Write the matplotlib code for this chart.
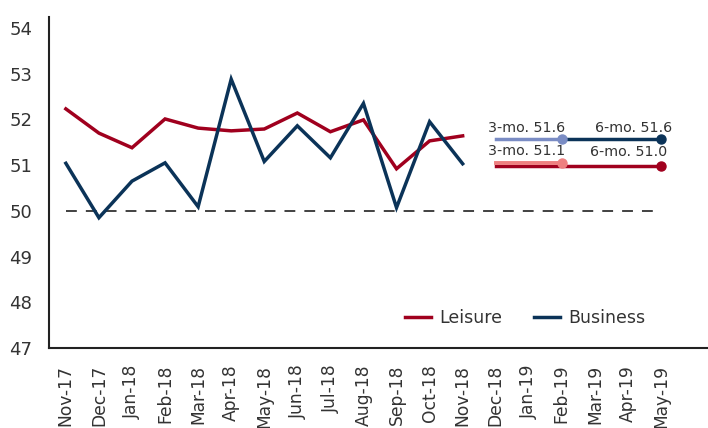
import matplotlib
matplotlib.use("Agg")
import matplotlib.pyplot as plt

months = ["Nov-17", "Dec-17", "Jan-18", "Feb-18", "Mar-18", "Apr-18", "May-18",
          "Jun-18", "Jul-18", "Aug-18", "Sep-18", "Oct-18", "Nov-18", "Dec-18",
          "Jan-19", "Feb-19", "Mar-19", "Apr-19", "May-19"]
leisure = [52.23, 51.70, 51.38, 52.01, 51.81, 51.75, 51.79, 52.14, 51.73, 51.99,
           50.92, 51.53, 51.64]
business = [51.04, 49.85, 50.65, 51.05, 50.09, 52.88, 51.08, 51.86, 51.16, 52.35,
            50.07, 51.95, 51.03]
bus_3mo, bus_6mo = 51.57, 51.57
lei_3mo, lei_6mo = 51.05, 50.97
bus_3mo_label, bus_6mo_label = "3-mo. 51.6", "6-mo. 51.6"
lei_3mo_label, lei_6mo_label = "3-mo. 51.1", "6-mo. 51.0"
threshold = 50

RED = "#A0001E"
NAVY = "#0B3358"
LIGHT_BLUE = "#7A8CC4"
LIGHT_RED = "#EE8080"
TXT = "#333333"

plt.rcParams['font.family'] = ['DejaVu Sans']

fig = plt.figure(figsize=(7.08, 4.28), dpi=100)
ax = fig.add_axes([49/708, 80/428, 1 - 49/708, (348-17)/428])

x = list(range(len(months)))
n = len(leisure)

ax.plot(x, [threshold]*len(x), color="#333333", lw=1.3, dashes=(6, 5))
ax.plot(x[:n], leisure, color=RED, lw=2.5, label="Leisure", solid_joinstyle="miter")
ax.plot(x[:n], business, color=NAVY, lw=2.5, label="Business", solid_joinstyle="miter")

i0, i3, i6 = 13, 15, 18
# business summary
ax.plot([i3, i6], [bus_6mo, bus_6mo], color=NAVY, lw=2.5)
ax.plot([i0, i3], [bus_3mo, bus_3mo], color=LIGHT_BLUE, lw=2.5)
ax.plot([i3], [bus_3mo], 'o', color=LIGHT_BLUE, ms=6.5)
ax.plot([i6], [bus_6mo], 'o', color=NAVY, ms=6.5)
# leisure summary
ax.plot([i0, i6], [lei_6mo, lei_6mo], color=RED, lw=2.5)
ax.plot([i0, i3], [lei_3mo, lei_3mo], color=LIGHT_RED, lw=2.8)
ax.plot([i3], [lei_3mo], 'o', color=LIGHT_RED, ms=6.5)
ax.plot([i6], [lei_6mo], 'o', color=RED, ms=6.5)

fs = 10.3
ax.text(12.76, bus_3mo + 0.24, bus_3mo_label, ha="left", va="center", fontsize=fs, color=TXT)
ax.text(18.33, bus_6mo + 0.24, bus_6mo_label, ha="right", va="center", fontsize=fs, color=TXT)
ax.text(12.76, lei_3mo + 0.26, lei_3mo_label, ha="left", va="center", fontsize=fs, color=TXT)
ax.text(18.18, lei_6mo + 0.32, lei_6mo_label, ha="right", va="center", fontsize=fs, color=TXT)

ax.set_xlim(-0.51, 19.42)
ax.set_ylim(47, 54.24)
ax.set_yticks(range(47, 55))
ax.set_xticks(x)
ax.set_xticklabels(months, rotation=90, fontsize=12.3, color=TXT)
ax.tick_params(axis='y', labelsize=13, colors=TXT, length=0, pad=12)
ax.tick_params(axis='x', length=0, pad=12)
for s in ["top", "right"]:
    ax.spines[s].set_visible(False)
for s in ["left", "bottom"]:
    ax.spines[s].set_color("#222222")
    ax.spines[s].set_linewidth(1.5)

leg = ax.legend(loc="center", bbox_to_anchor=(525/708, (428-318)/428),
                bbox_transform=fig.transFigure, ncol=2, frameon=False,
                fontsize=12.5, handlelength=1.5, handletextpad=0.5, columnspacing=1.8)
for t in leg.get_texts():
    t.set_color(TXT)

fig.savefig("out.png", dpi=100)
